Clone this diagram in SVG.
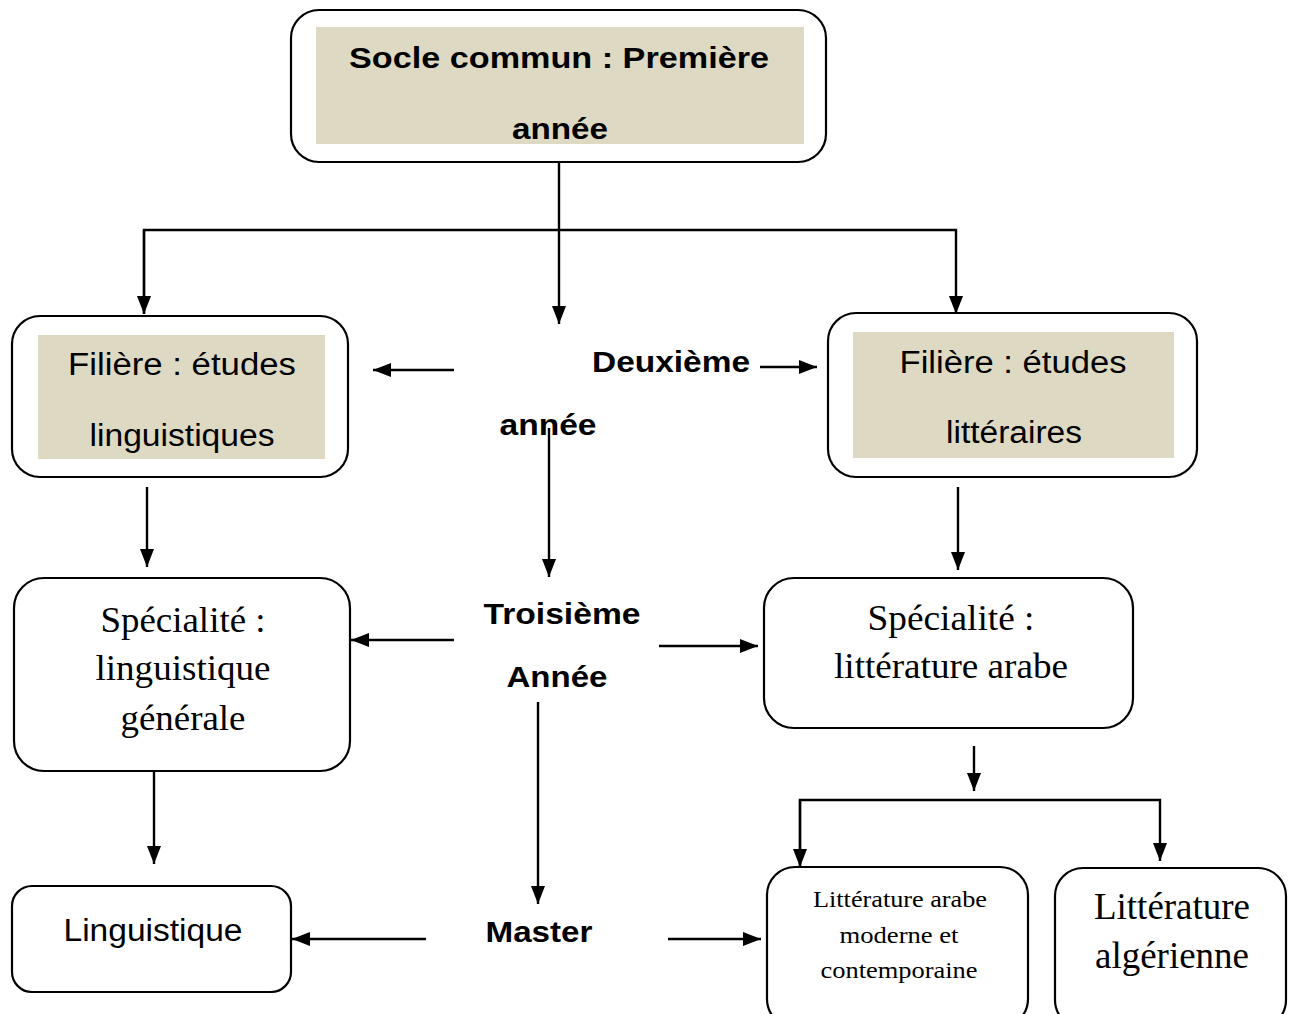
<svg xmlns="http://www.w3.org/2000/svg" width="1293" height="1014" viewBox="0 0 1293 1014">
<style>
.box{fill:#fff;stroke:#000;stroke-width:2.2}
.fill{fill:#DDD9C3}
.sb{font-family:"Liberation Sans",Arial,sans-serif;font-weight:bold;font-size:29px;text-anchor:middle;fill:#000}
.s{font-family:"Liberation Sans",Arial,sans-serif;font-size:31px;text-anchor:middle;fill:#000}
.t{font-family:"Liberation Serif","Times New Roman",serif;text-anchor:middle;fill:#000}
.c{fill:none;stroke:#000;stroke-width:2.4}
</style>
<defs>
<marker id="ah" viewBox="0 0 18 14" refX="18" refY="7" markerWidth="18" markerHeight="14" markerUnits="userSpaceOnUse" orient="auto">
<path d="M0,0 L18,7 L0,14 z" fill="#000"/>
</marker>
</defs>
<rect width="1293" height="1014" fill="#fff"/>
<g id="connectors">
<line class="c" x1="559" y1="162" x2="559" y2="324" marker-end="url(#ah)"/>
<polyline class="c" points="144,314 144,230 956,230 956,314" marker-end="url(#ah)"/>
<line class="c" x1="144" y1="230" x2="144" y2="314" marker-end="url(#ah)"/>
<line class="c" x1="454" y1="370" x2="373" y2="370" marker-end="url(#ah)"/>
<line class="c" x1="760" y1="367" x2="817" y2="367" marker-end="url(#ah)"/>
<line class="c" x1="549" y1="428" x2="549" y2="577" marker-end="url(#ah)"/>
<line class="c" x1="147" y1="487" x2="147" y2="567" marker-end="url(#ah)"/>
<line class="c" x1="958" y1="487" x2="958" y2="570" marker-end="url(#ah)"/>
<line class="c" x1="454" y1="640" x2="351" y2="640" marker-end="url(#ah)"/>
<line class="c" x1="659" y1="646" x2="758" y2="646" marker-end="url(#ah)"/>
<line class="c" x1="538" y1="702" x2="538" y2="904" marker-end="url(#ah)"/>
<line class="c" x1="154" y1="771" x2="154" y2="864" marker-end="url(#ah)"/>
<line class="c" x1="974" y1="746" x2="974" y2="791" marker-end="url(#ah)"/>
<polyline class="c" points="800,867 800,800 1160,800 1160,861" marker-end="url(#ah)"/>
<line class="c" x1="800" y1="800" x2="800" y2="867" marker-end="url(#ah)"/>
<line class="c" x1="426" y1="939" x2="292" y2="939" marker-end="url(#ah)"/>
<line class="c" x1="668" y1="939" x2="761" y2="939" marker-end="url(#ah)"/>
</g>
<g id="socle">
<rect class="box" x="291" y="10" width="535" height="152" rx="28"/>
<rect class="fill" x="316" y="27" width="488" height="117"/>
<text class="sb" x="559" y="68" textLength="420" lengthAdjust="spacingAndGlyphs">Socle commun : Première</text>
<text class="sb" x="560" y="139" textLength="96" lengthAdjust="spacingAndGlyphs">année</text>
</g>
<g id="filiere-ling">
<rect class="box" x="12" y="316" width="336" height="161" rx="28"/>
<rect class="fill" x="38" y="335" width="287" height="124"/>
<text class="s" x="182" y="375" textLength="228" lengthAdjust="spacingAndGlyphs">Filière : études</text>
<text class="s" x="182" y="446" textLength="185" lengthAdjust="spacingAndGlyphs">linguistiques</text>
</g>
<g id="deuxieme">
<text class="sb" x="671" y="372" textLength="158" lengthAdjust="spacingAndGlyphs">Deuxième</text>
<text class="sb" x="548" y="435" textLength="97" lengthAdjust="spacingAndGlyphs">année</text>
</g>
<g id="filiere-litt">
<rect class="box" x="828" y="313" width="369" height="164" rx="28"/>
<rect class="fill" x="853" y="332" width="321" height="126"/>
<text class="s" x="1013" y="373" textLength="227" lengthAdjust="spacingAndGlyphs">Filière : études</text>
<text class="s" x="1014" y="443" textLength="136" lengthAdjust="spacingAndGlyphs">littéraires</text>
</g>
<g id="spec-ling">
<rect class="box" x="14" y="578" width="336" height="193" rx="30"/>
<text class="t" x="183" y="632" font-size="36" textLength="165" lengthAdjust="spacingAndGlyphs">Spécialité :</text>
<text class="t" x="183" y="680" font-size="36" textLength="175" lengthAdjust="spacingAndGlyphs">linguistique</text>
<text class="t" x="183" y="730" font-size="36" textLength="125" lengthAdjust="spacingAndGlyphs">générale</text>
</g>
<g id="troisieme">
<text class="sb" x="562" y="624" textLength="157" lengthAdjust="spacingAndGlyphs">Troisième</text>
<text class="sb" x="557" y="687" textLength="101" lengthAdjust="spacingAndGlyphs">Année</text>
</g>
<g id="spec-litt">
<rect class="box" x="764" y="578" width="369" height="150" rx="30"/>
<text class="t" x="951" y="630" font-size="36" textLength="167" lengthAdjust="spacingAndGlyphs">Spécialité :</text>
<text class="t" x="951" y="678" font-size="36" textLength="234" lengthAdjust="spacingAndGlyphs">littérature arabe</text>
</g>
<g id="linguistique">
<rect class="box" x="12" y="886" width="279" height="106" rx="20"/>
<text class="s" x="153" y="941" textLength="179" lengthAdjust="spacingAndGlyphs">Linguistique</text>
</g>
<g id="master">
<text class="sb" x="539" y="942" textLength="107" lengthAdjust="spacingAndGlyphs">Master</text>
</g>
<g id="litt-arabe">
<rect class="box" x="767" y="867" width="261" height="160" rx="28"/>
<text class="t" x="900" y="907" font-size="24" textLength="174" lengthAdjust="spacingAndGlyphs">Littérature arabe</text>
<text class="t" x="899" y="943" font-size="24" textLength="119" lengthAdjust="spacingAndGlyphs">moderne et</text>
<text class="t" x="899" y="978" font-size="24" textLength="157" lengthAdjust="spacingAndGlyphs">contemporaine</text>
</g>
<g id="litt-alg">
<rect class="box" x="1055" y="868" width="231" height="160" rx="28"/>
<text class="t" x="1172" y="919" font-size="37" textLength="156" lengthAdjust="spacingAndGlyphs">Littérature</text>
<text class="t" x="1172" y="968" font-size="37" textLength="154" lengthAdjust="spacingAndGlyphs">algérienne</text>
</g>
</svg>
